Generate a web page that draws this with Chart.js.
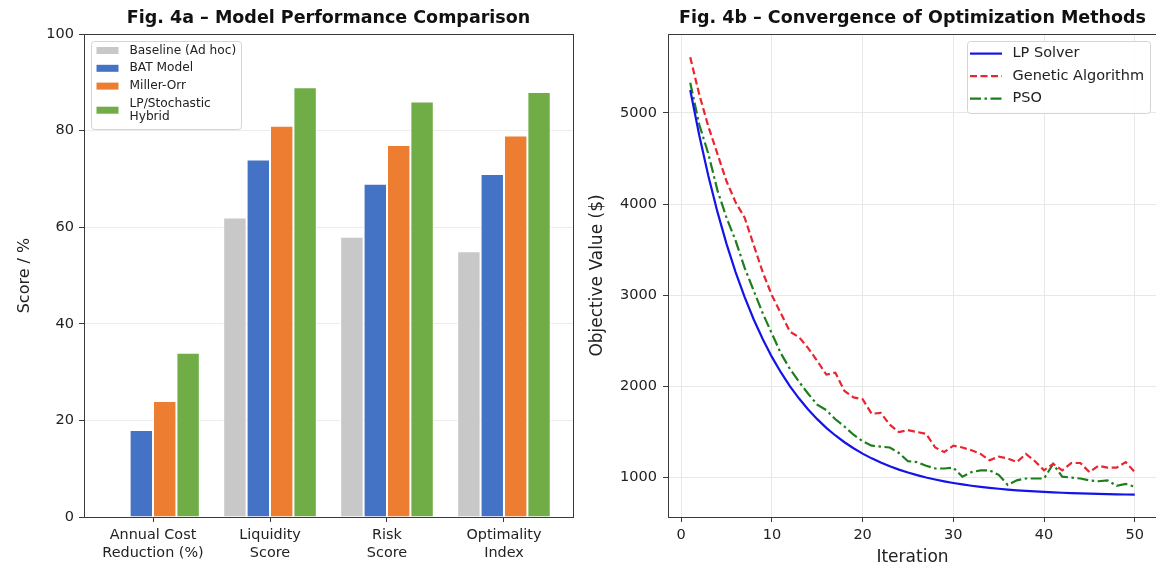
<!DOCTYPE html>
<html>
<head>
<meta charset="utf-8">
<script src="https://cdn.jsdelivr.net/npm/chart.js@4.4.0/dist/chart.umd.min.js"></script>
<style>
html, body { margin: 0; padding: 0; background: #fff; overflow: hidden; width: 1156px; height: 569px; }
#left { position: absolute; left: 0; top: 0; width: 580px; height: 569px; }
#right { position: absolute; left: 580px; top: 0; width: 592px; height: 569px; }
</style>
</head>
<body>
<div id="left"><canvas id="perfChart"></canvas></div>
<div id="right"><canvas id="convChart"></canvas></div>
<script>
// Fig. 4a data
const categories = [['Annual Cost', 'Reduction (%)'], ['Liquidity', 'Score'], ['Risk', 'Score'], ['Optimality', 'Index']];
const baseline = [0, 62, 58, 55];
const batModel = [18, 74, 69, 71];
const millerOrr = [24, 81, 77, 79];
const hybrid = [34, 89, 86, 88];
const scoreTicks = [0, 20, 40, 60, 80, 100];

// Fig. 4b data
const iterations = [1, 2, 3, 4, 5, 6, 7, 8, 9, 10, 11, 12, 13, 14, 15, 16, 17, 18, 19, 20,
  21, 22, 23, 24, 25, 26, 27, 28, 29, 30, 31, 32, 33, 34, 35, 36, 37, 38, 39, 40,
  41, 42, 43, 44, 45, 46, 47, 48, 49, 50];
const lpSolver = [5250, 4751, 4307, 3914, 3564, 3254, 2979, 2734, 2517, 2324,
  2153, 2001, 1867, 1747, 1641, 1546, 1462, 1388, 1322, 1263,
  1211, 1165, 1124, 1088, 1056, 1027, 1001, 979, 959, 941,
  925, 911, 899, 888, 878, 869, 861, 854, 848, 843,
  838, 834, 830, 827, 824, 821, 819, 817, 815, 813];
const geneticAlg = [5610, 5200, 4850, 4550, 4250, 4020, 3850, 3550, 3250, 3000,
  2800, 2600, 2540, 2420, 2280, 2130, 2150, 1950, 1880, 1860,
  1700, 1710, 1580, 1500, 1520, 1500, 1480, 1330, 1280, 1350,
  1330, 1300, 1260, 1190, 1230, 1210, 1170, 1260, 1180, 1080,
  1150, 1080, 1160, 1160, 1060, 1130, 1110, 1110, 1170, 1060];
const pso = [5330, 4870, 4550, 4150, 3850, 3600, 3300, 3050, 2800, 2580,
  2360, 2190, 2050, 1920, 1800, 1740, 1640, 1560, 1470, 1400,
  1350, 1340, 1330, 1270, 1180, 1170, 1130, 1100, 1100, 1110,
  1010, 1060, 1080, 1080, 1030, 920, 970, 990, 990, 990,
  1150, 1010, 1000, 990, 970, 960, 970, 910, 930, 900];
const iterTicks = [0, 10, 20, 30, 40, 50];
const valueTicks = [1000, 2000, 3000, 4000, 5000];

const FONT = 'DejaVu Sans';
Chart.defaults.font.family = FONT;
Chart.defaults.color = '#222';

// axes box like matplotlib spines
const frame = {
  id: 'frame',
  afterDatasetsDraw(chart) {
    const a = chart.chartArea, ctx = chart.ctx;
    ctx.save();
    ctx.strokeStyle = '#3a3a3a';
    ctx.lineWidth = 1;
    ctx.strokeRect(Math.round(a.left) + 0.5, Math.round(a.top) + 0.5,
      Math.round(a.right - a.left), Math.round(a.bottom - a.top));
    ctx.restore();
  }
};

// legend drawn inside the plot area
const boxLegend = {
  id: 'boxLegend',
  afterDraw(chart, args, o) {
    const ctx = chart.ctx, a = chart.chartArea;
    const bx = o.side === 'right' ? a.right - o.margin - o.width : a.left + o.margin;
    const by = a.top + o.margin;
    ctx.save();
    ctx.fillStyle = 'rgba(255,255,255,0.85)';
    ctx.strokeStyle = '#d4d4d4';
    ctx.lineWidth = 1;
    ctx.beginPath();
    ctx.roundRect(Math.round(bx) + 0.5, Math.round(by) + 0.5, o.width, o.height, 3);
    ctx.fill();
    ctx.stroke();
    ctx.font = o.fontSize + 'px "' + FONT + '"';
    ctx.textBaseline = 'middle';
    let y = by + o.firstRow;
    chart.data.datasets.forEach(ds => {
      const lines = ds.label.split('\n');
      const mid = y + (lines.length - 1) * o.lineGap / 2;
      if (o.sample === 'box') {
        ctx.fillStyle = ds.backgroundColor;
        ctx.fillRect(bx + o.sampleX, mid - o.sampleH / 2, o.sampleW, o.sampleH);
      } else {
        ctx.strokeStyle = ds.borderColor;
        ctx.lineWidth = ds.borderWidth;
        ctx.setLineDash(ds.borderDash || []);
        ctx.beginPath();
        ctx.moveTo(bx + o.sampleX, mid);
        ctx.lineTo(bx + o.sampleX + o.sampleW, mid);
        ctx.stroke();
        ctx.setLineDash([]);
      }
      ctx.fillStyle = '#222';
      lines.forEach((t, k) => ctx.fillText(t, bx + o.textX, y + k * o.lineGap));
      y += (lines.length - 1) * o.lineGap + o.rowGap;
    });
    ctx.restore();
  }
};

function toPoints(xs, ys) {
  return ys.map((v, i) => ({ x: xs[i], y: v }));
}
const catIdx = [0, 1, 2, 3];

new Chart(document.getElementById('perfChart'), {
  type: 'bar',
  data: {
    datasets: [
      { label: 'Baseline (Ad hoc)', data: toPoints(catIdx, baseline), backgroundColor: '#c8c8c8' },
      { label: 'BAT Model', data: toPoints(catIdx, batModel), backgroundColor: '#4472c4' },
      { label: 'Miller-Orr', data: toPoints(catIdx, millerOrr), backgroundColor: '#ed7d31' },
      { label: 'LP/Stochastic\nHybrid', data: toPoints(catIdx, hybrid), backgroundColor: '#70ad47' }
    ]
  },
  options: {
    responsive: true,
    maintainAspectRatio: false,
    animation: false,
    categoryPercentage: 0.8,
    barPercentage: 1.0,
    borderColor: '#ffffff',
    borderWidth: 1,
    layout: { padding: { left: 0, right: 7, top: 0, bottom: 0 } },
    plugins: {
      legend: { display: false },
      tooltip: { enabled: false },
      title: {
        display: true,
        fullSize: false,
        text: 'Fig. 4a \u2013 Model Performance Comparison',
        font: { size: 17.5, weight: 'bold' },
        color: '#111',
        padding: { top: 8, bottom: 5 }
      },
      boxLegend: {
        side: 'left', margin: 6.5, width: 150, height: 88, fontSize: 12.2,
        firstRow: 10, rowGap: 17.8, lineGap: 12.6,
        sample: 'box', sampleX: 6, sampleW: 22, sampleH: 7, textX: 39
      }
    },
    scales: {
      x: {
        type: 'linear',
        offset: false,
        min: -0.59,
        max: 3.59,
        afterBuildTicks: s => { s.ticks = catIdx.map(v => ({ value: v })); },
        afterFit: s => { s.height = 52; },
        ticks: { callback: v => categories[v], font: { size: 14.4 }, padding: 5, maxRotation: 0, autoSkip: false, color: '#222' },
        grid: { offset: false, drawOnChartArea: false, tickLength: 5, tickColor: '#3a3a3a' },
        border: { display: false }
      },
      y: {
        min: 0,
        max: 100,
        afterBuildTicks: s => { s.ticks = scoreTicks.map(v => ({ value: v })); },
        afterFit: s => { s.width = 84; },
        ticks: { font: { size: 14.5 }, padding: 5, color: '#222' },
        grid: { color: '#ececec', tickLength: 5, tickColor: '#3a3a3a' },
        border: { display: false },
        title: { display: true, text: 'Score / %', font: { size: 16 }, padding: { top: 15, bottom: 0 }, color: '#222' }
      }
    }
  },
  plugins: [frame, boxLegend]
});

new Chart(document.getElementById('convChart'), {
  type: 'line',
  data: {
    datasets: [
      { label: 'LP Solver', data: toPoints(iterations, lpSolver), borderColor: '#1414e8', borderWidth: 2.2 },
      { label: 'Genetic Algorithm', data: toPoints(iterations, geneticAlg), borderColor: '#ea2530', borderWidth: 2.2, borderDash: [7, 3.5] },
      { label: 'PSO', data: toPoints(iterations, pso), borderColor: '#1c7f1c', borderWidth: 2.2, borderDash: [11, 3.5, 2.5, 3.5] }
    ]
  },
  options: {
    responsive: true,
    maintainAspectRatio: false,
    animation: false,
    elements: { point: { radius: 0 }, line: { tension: 0 } },
    layout: { padding: { left: 0, right: 15, top: 0, bottom: 0 } },
    plugins: {
      legend: { display: false },
      tooltip: { enabled: false },
      title: {
        display: true,
        fullSize: false,
        text: 'Fig. 4b \u2013 Convergence of Optimization Methods',
        font: { size: 17.5, weight: 'bold' },
        color: '#111',
        padding: { top: 8, bottom: 5 }
      },
      boxLegend: {
        side: 'right', margin: 7, width: 183, height: 72, fontSize: 14.5,
        firstRow: 12.6, rowGap: 22.5, lineGap: 0,
        sample: 'line', sampleX: 3, sampleW: 32, textX: 45.5
      }
    },
    scales: {
      x: {
        type: 'linear',
        min: -1.45,
        max: 52.45,
        afterBuildTicks: s => { s.ticks = iterTicks.map(v => ({ value: v })); },
        afterFit: s => { s.height = 52; },
        ticks: { callback: v => String(v), font: { size: 14.5 }, padding: 5, color: '#222' },
        grid: { color: '#e8e8e8', tickLength: 5, tickColor: '#3a3a3a' },
        border: { display: false },
        title: { display: true, text: 'Iteration', font: { size: 17 }, padding: { top: 0, bottom: 1 }, color: '#222' }
      },
      y: {
        min: 568,
        max: 5865,
        afterBuildTicks: s => { s.ticks = valueTicks.map(v => ({ value: v })); },
        afterFit: s => { s.width = 88; },
        ticks: { callback: v => String(v), font: { size: 14.5 }, padding: 6, color: '#222' },
        grid: { color: '#e8e8e8', tickLength: 5, tickColor: '#3a3a3a' },
        border: { display: false },
        title: { display: true, text: 'Objective Value ($)', font: { size: 17 }, padding: { top: 7, bottom: 0 }, color: '#222' }
      }
    }
  },
  plugins: [frame, boxLegend]
});
</script>
</body>
</html>
